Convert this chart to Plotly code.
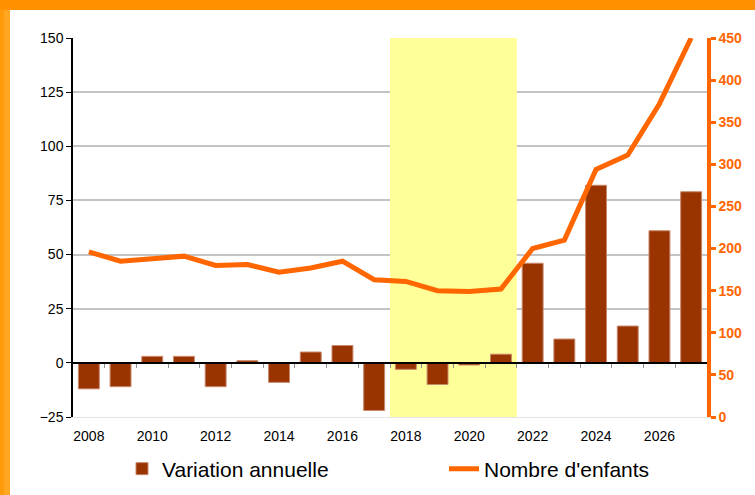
import plotly.graph_objects as go

# ---- data ----
years = list(range(2008, 2028))
variation = [-12, -11, 3, 3, -11, 1, -9, 5, 8, -22, -3, -10, -1, 4, 46, 11, 82, 17, 61, 79]
enfants = [196, 185, 188, 191, 180, 181, 172, 177, 185, 163, 161, 150, 149, 152, 200, 210, 294, 311, 372, 450]
tick_years = list(range(2008, 2028, 2))
highlight = (2018, 2021)
left_ticks = list(range(-25, 151, 25))
right_ticks = list(range(0, 451, 50))
series_names = ["Variation annuelle", "Nombre d'enfants"]

# ---- geometry ----
W, H = 755, 495
L, R, T, B = 73, 48, 38, 78
pw, ph = W - L - R, H - T - B


def px_x(px):
    return (px - L) / pw


def px_y(py):
    return (H - B - py) / ph


FONT = "Liberation Sans, Arial, sans-serif"
ORANGE = "#FF6600"
BAR = "#993300"

fig = go.Figure()

fig.add_trace(go.Bar(
    x=years, y=variation, name=series_names[0],
    marker=dict(color=BAR, line=dict(color="#C8886A", width=1)),
    width=0.66, yaxis="y", legend="legend",
))
fig.add_trace(go.Scatter(
    x=years, y=enfants, name=series_names[1], mode="lines",
    line=dict(color=ORANGE, width=5), yaxis="y2", cliponaxis=False,
    legend="legend2",
))
# helper trace so the zero-line axis is drawn
fig.add_trace(go.Scatter(
    x=[years[0]], y=[None], xaxis="x2", yaxis="y", showlegend=False,
    hoverinfo="skip", mode="lines",
))

shapes = [
    dict(type="rect", xref="paper", yref="paper", x0=px_x(0), x1=px_x(W),
         y0=px_y(H), y1=px_y(0), fillcolor="#FF9000", line_width=0, layer="below"),
    dict(type="rect", xref="paper", yref="paper", x0=px_x(10), x1=px_x(W),
         y0=px_y(H), y1=px_y(10), fillcolor="white", line_width=0, layer="below"),
    dict(type="rect", xref="paper", yref="paper", x0=px_x(0), x1=px_x(4),
         y0=px_y(H), y1=px_y(10), fillcolor="#FF9A0A", line_width=0, layer="below"),
    dict(type="rect", xref="paper", yref="paper", x0=px_x(4), x1=px_x(10),
         y0=px_y(H), y1=px_y(10), fillcolor="#FFA623", line_width=0, layer="below"),
    dict(type="rect", xref="x", yref="y", x0=highlight[0] - 0.5, x1=highlight[1] + 0.5,
         y0=left_ticks[0], y1=left_ticks[-1], fillcolor="#FFFF99", line_width=0,
         layer="between"),
]

legend_common = dict(
    orientation="h", xanchor="left", yanchor="middle",
    yref="container", y=1 - 469 / H,
    font=dict(size=21, color="black"), bgcolor="rgba(0,0,0,0)",
)

fig.update_layout(
    width=W, height=H,
    margin=dict(l=L, r=R, t=T, b=B, pad=0, autoexpand=False),
    paper_bgcolor="white", plot_bgcolor="rgba(0,0,0,0)",
    font=dict(family=FONT, size=14, color="black"),
    shapes=shapes,
    barmode="overlay",
    showlegend=True,
    legend=dict(x=px_x(122), **legend_common),
    legend2=dict(x=px_x(444), **legend_common),
    xaxis=dict(
        range=[years[0] - 0.5, years[-1] + 0.5], tickvals=tick_years,
        ticktext=[str(y) for y in tick_years], ticks="outside", ticklen=6,
        tickcolor="rgba(0,0,0,0)", showgrid=False, zeroline=False,
        showline=True, linecolor="#E4E4E4", linewidth=1,
        tickfont=dict(size=14, color="black"),
    ),
    xaxis2=dict(
        overlaying="x", anchor="free",
        position=(0 - left_ticks[0]) / (left_ticks[-1] - left_ticks[0]),
        range=[years[0] - 0.5, years[-1] + 0.5],
        tickvals=[y + 0.5 for y in years[:-1]], ticks="outside", ticklen=4,
        tickcolor="#909090", tickwidth=1, showticklabels=False,
        showline=True, linecolor="black", linewidth=2, showgrid=False, zeroline=False,
    ),
    yaxis=dict(
        range=[left_ticks[0], left_ticks[-1]], tickvals=left_ticks,
        ticks="outside", ticklen=5, tickcolor="black",
        showline=True, linecolor="black", linewidth=1.5,
        gridcolor="#C4C4C4", gridwidth=1.5, zeroline=False,
        tickfont=dict(size=14, color="black"),
    ),
    yaxis2=dict(
        overlaying="y", side="right", range=[right_ticks[0], right_ticks[-1]],
        tickvals=right_ticks, ticks="outside", ticklen=5, tickwidth=3,
        tickcolor=ORANGE, showline=True, linecolor=ORANGE, linewidth=3.5,
        showgrid=False, zeroline=False,
        tickfont=dict(size=14, color=ORANGE, family="Liberation Sans, Arial Black, Arial", weight="bold"),
    ),
)

fig.write_html(
    "out.html",
    config={"displayModeBar": False},
    post_script="document.body.style.margin='0';document.body.style.overflow='hidden';",
)
